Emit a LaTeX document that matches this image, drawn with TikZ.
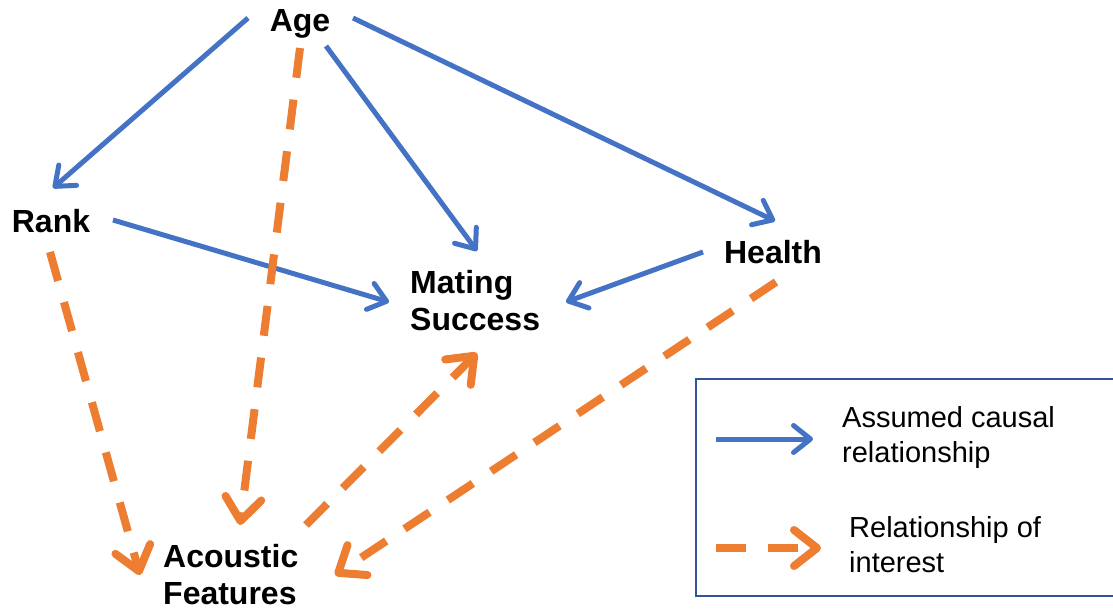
\documentclass[tikz,border=0pt]{standalone}
\usepackage{fontspec}
\setmainfont{Liberation Sans}
\usetikzlibrary{arrows.meta,calc}
\definecolor{cblue}{HTML}{4472C4}
\definecolor{corange}{HTML}{ED7D31}
\definecolor{cframe}{HTML}{2F5597}
\begin{document}
\begin{tikzpicture}[x=1pt,y=-1pt,
  lbl/.style={font=\fontsize{32}{37}\selectfont\bfseries, inner sep=0pt, align=left},
  leg/.style={font=\fontsize{29}{35}\selectfont, inner sep=0pt, align=left},
  causal/.style={draw=cblue, line width=5pt, -{Straight Barb[length=17pt,width=27pt,round]}},
  interest/.style={draw=corange, line width=8pt, dash pattern=on 30pt off 22pt, -{Straight Barb[length=23pt,width=36pt,round]}},
  frame/.style={draw=cframe, line width=2.2pt}]
\useasboundingbox (0,0) rectangle (1113,611);
% nodes
\node[lbl, anchor=base] (age) at (300,31) {Age};
\node[lbl, anchor=base] (rank) at (51,232) {Rank};
\node[lbl, anchor=base] (health) at (773,263) {Health};
\node[lbl, anchor=base west] (mating) at (410,330) {Mating\\Success};
\node[lbl, anchor=base west] (acoustic) at (163,604) {Acoustic\\Features};
% causal arrows
\draw[causal] ([shift={(-52,-13)}]age.base) -- ([shift={(2,-44)}]rank.base);
\draw[causal] ([shift={(26,15)}]age.base) -- ([shift={(67,-79)}]mating.base west);
\draw[causal] ([shift={(53,-13)}]age.base) -- ([shift={(2,-42)}]health.base);
\draw[causal] ([shift={(62,-12)}]rank.base) -- ([shift={(-21,-28)}]mating.base west);
\draw[causal] ([shift={(-70,-11)}]health.base) -- ([shift={(156,-28)}]mating.base west);
% relationships of interest
\draw[interest] ([shift={(0,17)}]age.base) -- ([shift={(77,-79)}]acoustic.base west);
\draw[interest] ([shift={(-1,20)}]rank.base) -- ([shift={(-23,-29)}]acoustic.base west);
\draw[interest] ([shift={(143,-79)}]acoustic.base west) -- ([shift={(67,23)}]mating.base west);
\draw[interest] ([shift={(3,19)}]health.base) -- ([shift={(172,-29)}]acoustic.base west);
% legend
\draw[frame] (696,379) rectangle (1130,596);
\coordinate (lbS) at (716,439);
\coordinate (lbE) at (813,439);
\coordinate (loS) at (716,548);
\coordinate (loE) at (821,548);
\draw[causal] (lbS) -- (lbE);
\draw[interest] (loS) -- (loE);
\node[leg, anchor=base west] (legA) at (842,462) {Assumed causal\\relationship};
\node[leg, anchor=base west] (legB) at (849,572) {Relationship of\\interest};
\end{tikzpicture}
\end{document}
